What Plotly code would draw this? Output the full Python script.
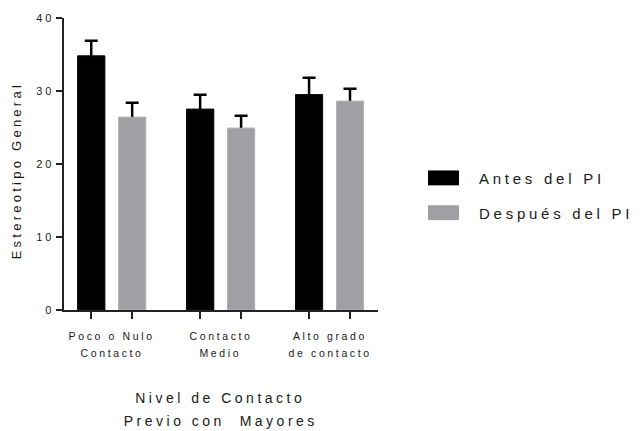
import plotly.graph_objects as go

# Data
categories = ["Poco o Nulo\nContacto", "Contacto\nMedio", "Alto grado\nde contacto"]
series_names = ["Antes del PI", "Después del PI"]
antes_mean = [34.8, 27.5, 29.5]
antes_err = [2.1, 2.0, 2.3]
despues_mean = [26.4, 24.9, 28.6]
despues_err = [2.0, 1.7, 1.7]
y_ticks = [0, 10, 20, 30, 40]
y_title = "Estereotipo General"
x_title = ["Nivel de Contacto", "Previo con\u00a0 Mayores"]

# Layout constants (pixels)
W, H = 640, 431
M_L, M_R, M_T, M_B = 64, 262, 16, 121
PLOT_W = W - M_L - M_R
PLOT_H = H - M_T - M_B
BARGAP, GROUPGAP = 0.248, 0.34
X_RANGE = [-0.438, 2.445]

FONT = "Liberation Sans, Arial, sans-serif"
TXT = "#1a1a1a"
BLACK = "#000000"
GRAY = "#a0a0a4"


def px_x(px):
    return (px - M_L) / PLOT_W


def px_y(py):
    return (M_T + PLOT_H - py) / PLOT_H


xs = list(range(len(categories)))
slot = (1 - BARGAP) / 2
tick_positions = sorted([i - slot / 2 for i in xs] + [i + slot / 2 for i in xs])

series = [
    (series_names[0], antes_mean, antes_err, BLACK, "#111111", "antes"),
    (series_names[1], despues_mean, despues_err, GRAY, "#b4b4b8", "despues"),
]

fig = go.Figure()
# bars carrying the upper (SEM) error bars; the lower end of each
# error bar sits inside the bar and is hidden by the bars drawn next
for name, mean, err, color, edge, grp in series:
    fig.add_trace(go.Bar(
        x=xs, y=mean, name=name, offsetgroup=grp,
        marker=dict(color=color, line=dict(color=edge, width=1)),
        error_y=dict(type="data", symmetric=False, array=err,
                     arrayminus=[0.6] * len(err), color=BLACK,
                     thickness=2.5, width=6.5),
        showlegend=False,
    ))
for name, mean, err, color, edge, grp in series:
    fig.add_trace(go.Bar(
        x=xs, y=mean, name=name, offsetgroup=grp,
        marker=dict(color=color, line=dict(color=edge, width=1)),
        showlegend=False, hoverinfo="skip",
    ))

annotations = []
# category labels, one annotation per line
for i, label in enumerate(categories):
    for j, line in enumerate(label.split("\n")):
        annotations.append(dict(
            x=i, xref="x", y=px_y(336 + j * 17.5), yref="paper",
            text=line, showarrow=False, xanchor="center", yanchor="middle",
            font=dict(family=FONT, size=10.5, color=TXT),
        ))
# axis title below
for j, line in enumerate(x_title):
    annotations.append(dict(
        x=1, xref="x", y=px_y(398.5 + j * 23.5), yref="paper",
        text=line, showarrow=False, xanchor="center", yanchor="middle",
        font=dict(family=FONT, size=14, color=TXT),
    ))
# y title
annotations.append(dict(
    x=px_x(16.5), xref="paper", y=px_y(170), yref="paper",
    text=y_title, textangle=-90, showarrow=False,
    xanchor="center", yanchor="middle",
    font=dict(family=FONT, size=13, color=TXT),
))

# legend
shapes = []
for k, (name, color) in enumerate([(series_names[0], BLACK), (series_names[1], GRAY)]):
    cy = 177 + k * 35
    shapes.append(dict(
        type="rect", xref="paper", yref="paper",
        x0=px_x(428), x1=px_x(459), y0=px_y(cy - 7.5), y1=px_y(cy + 7.5),
        fillcolor=color, line=dict(width=0),
    ))
    annotations.append(dict(
        x=px_x(477), xref="paper", y=px_y(cy + 1), yref="paper",
        text=name, showarrow=False, xanchor="left", yanchor="middle", align="left",
        font=dict(family=FONT, size=15, color=TXT),
    ))

fig.update_layout(
    width=W, height=H,
    margin=dict(l=M_L, r=M_R, t=M_T, b=M_B, pad=0),
    paper_bgcolor="white", plot_bgcolor="white",
    barmode="group", bargap=BARGAP, bargroupgap=GROUPGAP,
    font=dict(family=FONT, color=TXT),
    annotations=annotations, shapes=shapes,
    xaxis=dict(
        range=X_RANGE, showgrid=False, zeroline=False,
        showline=True, linecolor="#222222", linewidth=1.5,
        tickmode="array", tickvals=tick_positions, showticklabels=False,
        ticks="outside", ticklen=7, tickwidth=1.5, tickcolor="#222222",
    ),
    yaxis=dict(
        range=[0, 40], showgrid=False, zeroline=False,
        showline=True, linecolor="#222222", linewidth=1.5,
        tickmode="array", tickvals=y_ticks,
        ticks="outside", ticklen=6, tickwidth=1.5, tickcolor="#222222",
        tickfont=dict(family=FONT, size=11, color=TXT),
    ),
)

# widen letter spacing of all chart text
spacing_js = (
    "var s=document.createElement('style');"
    "s.textContent='.main-svg text{letter-spacing:0.25em}';"
    "document.head.appendChild(s);"
)
fig.write_html("out.html", post_script=spacing_js)
